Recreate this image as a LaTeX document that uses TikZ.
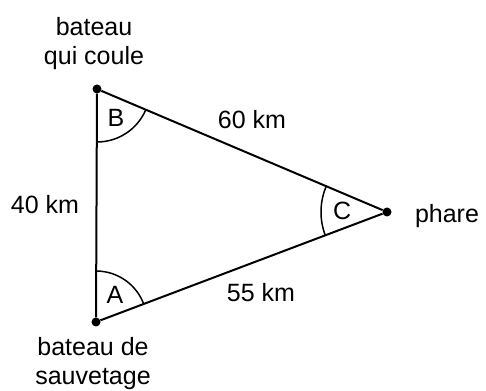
\documentclass[tikz,border=0pt]{standalone}
\usepackage{fontspec}
\setmainfont{Liberation Sans}
\usetikzlibrary{angles}
\tikzset{
  pt/.style    = {circle, fill=black, inner sep=0pt, minimum size=9pt},
  lbl/.style   = {font=\fontsize{25}{29}\selectfont, inner sep=0pt, align=center},
  side/.style  = {line width=2pt, color=black},
  ang/.style   = {draw, line width=1.5pt, angle eccentricity=0.65,
                  pic text options={font=\fontsize{25}{29}\selectfont, inner sep=0pt}},
}
\begin{document}
\begin{tikzpicture}[x=1pt, y=1pt]
\useasboundingbox (0,0) rectangle (486,390);

% ---- Points -----------------------------------------------------------------
\node[pt] (B) at (97,301) {};
\node[pt] (A) at (96,68)  {};
\node[pt] (C) at (387,178) {};

% ---- Sides ------------------------------------------------------------------
\draw[side] (A) -- (B);
\draw[side] (B) -- (C);
\draw[side] (C) -- (A);

% ---- Angles -----------------------------------------------------------------
\pic[ang, angle radius=53pt, pic text=B] {angle = A--B--C};
\pic[ang, angle radius=51pt, pic text=A] {angle = C--A--B};
\pic[ang, angle radius=66pt, angle eccentricity=0.68, pic text=C] {angle = B--C--A};

% ---- Labels -----------------------------------------------------------------
\node[lbl] (Btxt) at (94,346.5) {bateau\\qui coule};
\node[lbl] (Atxt) at (93,26.5)  {bateau de\\sauvetage};
\node[lbl, anchor=base] (Ctxt) at (447,167) {phare};

\node[lbl, anchor=base] (AB) at (45,176)  {40 km};
\node[lbl, anchor=base] (BC) at (252,261) {60 km};
\node[lbl, anchor=base] (CA) at (261,88)  {55 km};

\end{tikzpicture}
\end{document}
